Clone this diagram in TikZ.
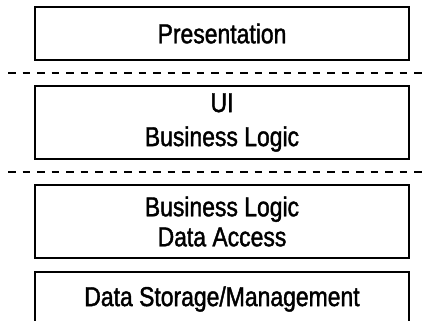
\documentclass[tikz,border=0pt]{standalone}
\usepackage{fontspec}
\newfontfamily\lsans[FakeStretch=0.84, FakeBold=1.5]{Liberation Sans}
\newcommand\layerfont{\fontsize{27.3bp}{32bp}\selectfont\lsans}
\usetikzlibrary{positioning}

\begin{document}
\begin{tikzpicture}[
		x=1bp, y=1bp,
		layer/.style={draw, line width=1.6bp, minimum width=374bp, inner sep=0pt, outer sep=0pt, align=center, font=\layerfont},
		cut/.style={dash pattern=on 7.5bp off 7bp, line width=1.6bp}
	]
	\useasboundingbox (0,0) rectangle (428,-321);
	\coordinate (lft) at (8,0);
	\coordinate (rgt) at (428,0);

	\node[layer, minimum height=53bp] (pres) at (222,-33.5) {Presentation};
	\node[layer, minimum height=73bp, below=26bp of pres] (ui) {UI\\[2bp]Business Logic};
	\node[layer, minimum height=73bp, below=26bp of ui] (logic) {Business Logic\\[-2bp]Data Access};
	\node[layer, draw=none, minimum height=54bp, below=14bp of logic] (store) {Data Storage/Management};
	\draw[line width=1.6bp] (store.south west) |- (store.north east) -- (store.south east);

	% tier separators
	\path (pres.south) -- (ui.north) coordinate[midway] (cut1);
	\path (ui.south) -- (logic.north) coordinate[midway] (cut2);
	\draw[cut] (cut1 -| lft) -- (cut1 -| rgt);
	\draw[cut] (cut2 -| lft) -- (cut2 -| rgt);
\end{tikzpicture}
\end{document}
